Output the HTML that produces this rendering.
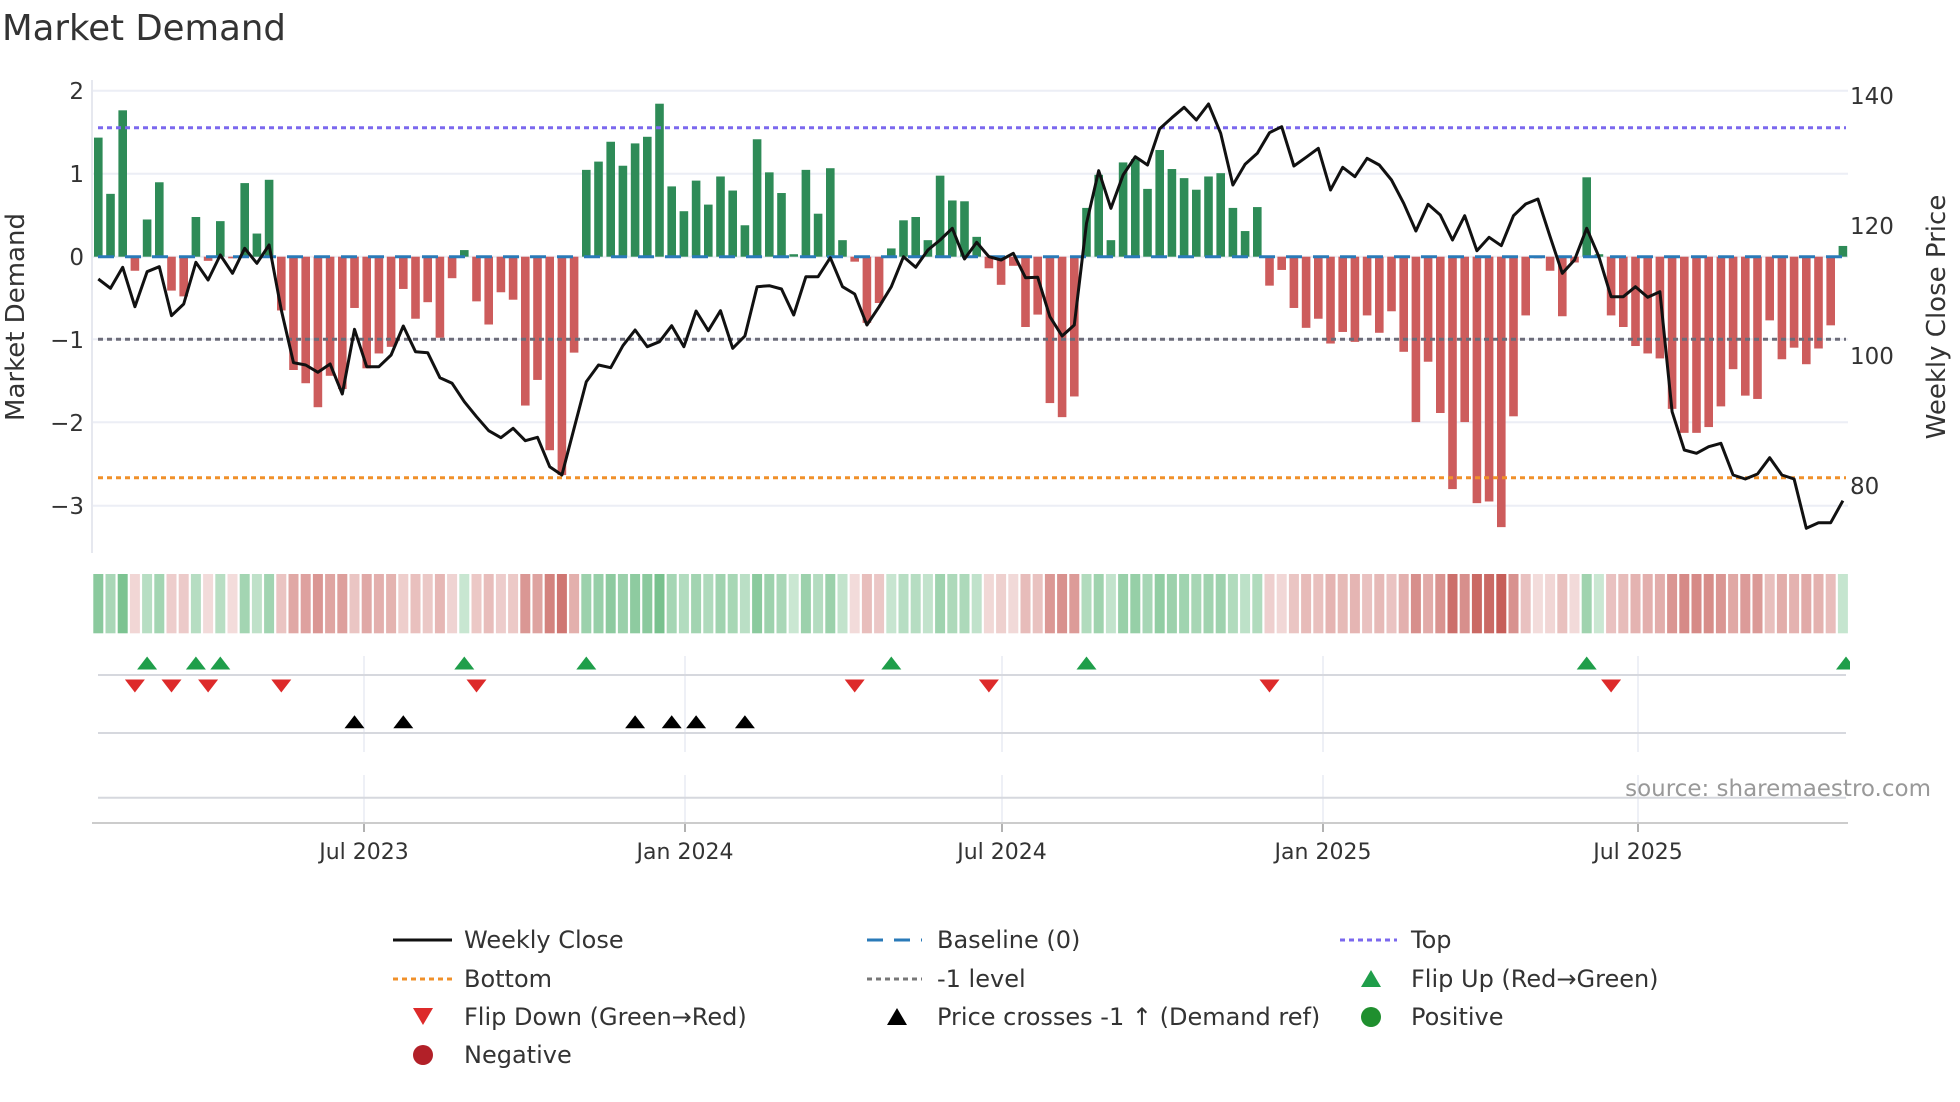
<!DOCTYPE html>
<html><head><meta charset="utf-8"><style>
html,body{margin:0;padding:0;background:#fff;}
svg{display:block;font-family:"DejaVu Sans","Liberation Sans",sans-serif;}
</style></head><body>
<svg id="s" width="1960" height="1102" viewBox="0 0 1960 1102" xmlns="http://www.w3.org/2000/svg">
<rect width="1960" height="1102" fill="#fff"/>
<text x="2" y="40" font-size="35.5" fill="#333">Market Demand</text>
<g id="grid"></g>
<g id="bars"></g>
<g id="lines"></g>
<g id="heat"></g>
<g id="marks"></g>
<g font-size="23" fill="#333" text-anchor="end">
<text x="84" y="99">2</text><text x="84" y="182">1</text><text x="84" y="265">0</text>
<text x="84" y="348">−1</text><text x="84" y="431">−2</text><text x="84" y="514">−3</text>
</g>
<g font-size="23" fill="#333">
<text x="1850" y="104">140</text><text x="1850" y="234">120</text><text x="1850" y="364">100</text><text x="1850" y="494">80</text>
</g>
<text transform="translate(24,317) rotate(-90)" font-size="26" fill="#333" text-anchor="middle">Market Demand</text>
<text transform="translate(1945,317) rotate(-90)" font-size="26" fill="#333" text-anchor="middle">Weekly Close Price</text>
<text x="1931" y="796" font-size="23" fill="#999" text-anchor="end">source: sharemaestro.com</text>
<g font-size="22" fill="#333" text-anchor="middle">
<text x="364" y="859">Jul 2023</text><text x="685" y="859">Jan 2024</text><text x="1002" y="859">Jul 2024</text>
<text x="1323" y="859">Jan 2025</text><text x="1638" y="859">Jul 2025</text>
</g>
<g font-size="24" fill="#333">
<line x1="393" y1="940" x2="452" y2="940" stroke="#111" stroke-width="3"/>
<text x="464" y="948">Weekly Close</text>
<line x1="867" y1="940" x2="922" y2="940" stroke="#2a7ab8" stroke-width="3" stroke-dasharray="16,11"/>
<text x="937" y="948">Baseline (0)</text>
<line x1="1340" y1="940" x2="1397" y2="940" stroke="#7b68ee" stroke-width="3" stroke-dasharray="5,4"/>
<text x="1411" y="948">Top</text>
<line x1="393" y1="979" x2="452" y2="979" stroke="#f0902a" stroke-width="3" stroke-dasharray="5,4"/>
<text x="464" y="987">Bottom</text>
<line x1="867" y1="979" x2="922" y2="979" stroke="#777" stroke-width="3" stroke-dasharray="5,4"/>
<text x="937" y="987">-1 level</text>
<polygon points="1361,987 1381,987 1371,970" fill="#1f9e4a"/>
<text x="1411" y="987">Flip Up (Red→Green)</text>
<polygon points="413,1008 433,1008 423,1025" fill="#dd2a2a"/>
<text x="464" y="1025">Flip Down (Green→Red)</text>
<polygon points="887,1025 907,1025 897,1008" fill="#000"/>
<text x="937" y="1025">Price crosses -1 ↑ (Demand ref)</text>
<circle cx="1371" cy="1017" r="10" fill="#1f8f2e"/>
<text x="1411" y="1025">Positive</text>
<circle cx="423" cy="1055" r="10" fill="#b22028"/>
<text x="464" y="1063">Negative</text>
</g>
</svg>
<script>
var NS="http://www.w3.org/2000/svg";
function el(p,t,a){var e=document.createElementNS(NS,t);for(var k in a)e.setAttribute(k,a[k]);document.getElementById(p).appendChild(e);return e;}
var V=[1.44,0.76,1.77,-0.17,0.45,0.9,-0.41,-0.48,0.48,-0.05,0.43,-0.02,0.89,0.28,0.93,-0.65,-1.37,-1.53,-1.82,-1.44,-1.6,-0.62,-1.35,-1.17,-1.09,-0.39,-0.75,-0.55,-0.98,-0.26,0.08,-0.54,-0.82,-0.43,-0.52,-1.8,-1.49,-2.34,-2.64,-1.16,
1.05,1.15,1.39,1.1,1.37,1.45,1.85,0.85,0.55,0.92,0.63,0.97,0.8,0.38,1.42,1.02,0.77,0.03,1.05,0.52,1.07,0.2,-0.06,-0.8,-0.56,0.1,0.44,0.48,0.2,0.98,0.68,0.67,0.24,-0.14,-0.34,
-0.11,-0.85,-0.7,-1.77,-1.94,-1.69,0.59,0.99,0.2,1.14,1.18,0.82,1.29,1.06,0.95,0.81,0.97,1.01,0.59,0.31,0.6,-0.35,-0.16,-0.62,-0.86,-0.75,-1.05,-0.91,-1.03,-0.71,-0.92,-0.66,-1.15,-2.0,-1.27,-1.89,-2.81,
-2.0,-2.98,-2.96,-3.27,-1.93,-0.71,-0.02,-0.17,-0.72,-0.07,0.96,0.03,-0.71,-0.85,-1.08,-1.17,-1.23,-1.84,-2.13,-2.13,-2.06,-1.81,-1.36,-1.68,-1.72,-0.77,-1.24,-1.1,-1.3,-1.11,-0.83,0.13];
var P=[597,625,562,680,575,560,707,672,547,600,525,580,505,550,495,690,848,855,877,852,942,748,860,860,825,738,815,818,893,910,965,1010,1052,1073,1045,1082,1072,1160,
1185,1045,905,855,863,797,750,800,785,737,800,693,752,692,805,768,620,617,627,705,590,590,533,620,642,735,680,620,530,562,510,480,445,537,487,530,540,
520,593,592,710,768,735,430,272,385,285,230,255,146,113,82,120,72,160,315,253,220,158,140,258,232,205,330,262,290,235,255,300,370,453,373,405,480,
407,512,472,497,407,372,357,470,580,540,445,530,650,650,620,652,635,995,1110,1120,1100,1090,1185,1197,1182,1133,1185,1197,1345,1328,1328,1262];
function X(i){return 98.3+12.2*i;}
var Z=256.7,U=82.7;
[90.7,173.7,256.7,339.3,422.3,505.7].forEach(function(y){el("grid","line",{x1:92,x2:1848,y1:y,y2:y,stroke:"#eceef5","stroke-width":2});});
el("grid","line",{x1:92,x2:92,y1:80,y2:553,stroke:"#e6e8ef","stroke-width":2});
[364,685,1002,1323,1638].forEach(function(x){
 el("grid","line",{x1:x,x2:x,y1:656,y2:752,stroke:"#e8eaf2","stroke-width":1.5});
 el("grid","line",{x1:x,x2:x,y1:775,y2:823,stroke:"#e8eaf2","stroke-width":1.5});
 el("grid","line",{x1:x,x2:x,y1:823,y2:832,stroke:"#999","stroke-width":1.5});
});
[675,733,797.7].forEach(function(y){el("grid","line",{x1:98,x2:1846,y1:y,y2:y,stroke:"#d6d8de","stroke-width":2});});
el("grid","line",{x1:92,x2:1848,y1:823,y2:823,stroke:"#ccc","stroke-width":2});
V.forEach(function(v,i){var h=Math.abs(v)*U;el("bars","rect",{x:X(i)-4.3,width:8.6,y:v>=0?Z-h:Z,height:Math.max(h,0.5),fill:v>=0?"#2e8b57":"#cd5c5c"});});
el("lines","line",{x1:98,x2:1846,y1:Z,y2:Z,stroke:"#2a7ab8","stroke-width":3,"stroke-dasharray":"16,11"});
el("lines","line",{x1:98,x2:1846,y1:127.7,y2:127.7,stroke:"#7b68ee","stroke-width":3,"stroke-dasharray":"5,4"});
el("lines","line",{x1:98,x2:1846,y1:339.3,y2:339.3,stroke:"#6b6b78","stroke-width":3,"stroke-dasharray":"5,4"});
el("lines","line",{x1:98,x2:1846,y1:477.7,y2:477.7,stroke:"#f0902a","stroke-width":3,"stroke-dasharray":"5,4"});
var pts=P.map(function(v,i){return X(i).toFixed(1)+","+(80+v/3).toFixed(1);}).join(" ");
el("lines","polyline",{points:pts,fill:"none",stroke:"#111","stroke-width":3,"stroke-linejoin":"round"});
function mix(c,a){return "rgb("+c.map(function(x){return Math.round(255+(x-255)*a);}).join(",")+")";}
V.forEach(function(v,i){var a,c;
 if(v>=0){a=0.28+0.45*Math.min(v/1.85,1);c=[70,170,100];}else{a=0.2+0.75*Math.min(-v/3.27,1);c=[195,85,80];}
 el("heat","rect",{x:X(i)-5,width:10,y:574,height:59.3,fill:mix(c,a)});});
function tri(x,y,up,col){var w=10,h=6.5;var p=up?[[x-w,y+h],[x+w,y+h],[x,y-h]]:[[x-w,y-h],[x+w,y-h],[x,y+h]];
 el("marks","polygon",{points:p.map(function(q){return q.join(",");}).join(" "),fill:col});}
[4,8,10,30,40,65,81,122].forEach(function(i){tri(X(i),663,true,"#1f9e4a");});
tri(1846,663,true,"#1f9e4a");
[3,6,9,15,31,62,73,96,124].forEach(function(i){tri(X(i),686,false,"#dd2a2a");});
[21,25,44,47,49,53].forEach(function(i){tri(X(i),721.7,true,"#000");});
el("marks","rect",{x:1850,y:650,width:110,height:30,fill:"#fff"});
</script>
</body></html>
